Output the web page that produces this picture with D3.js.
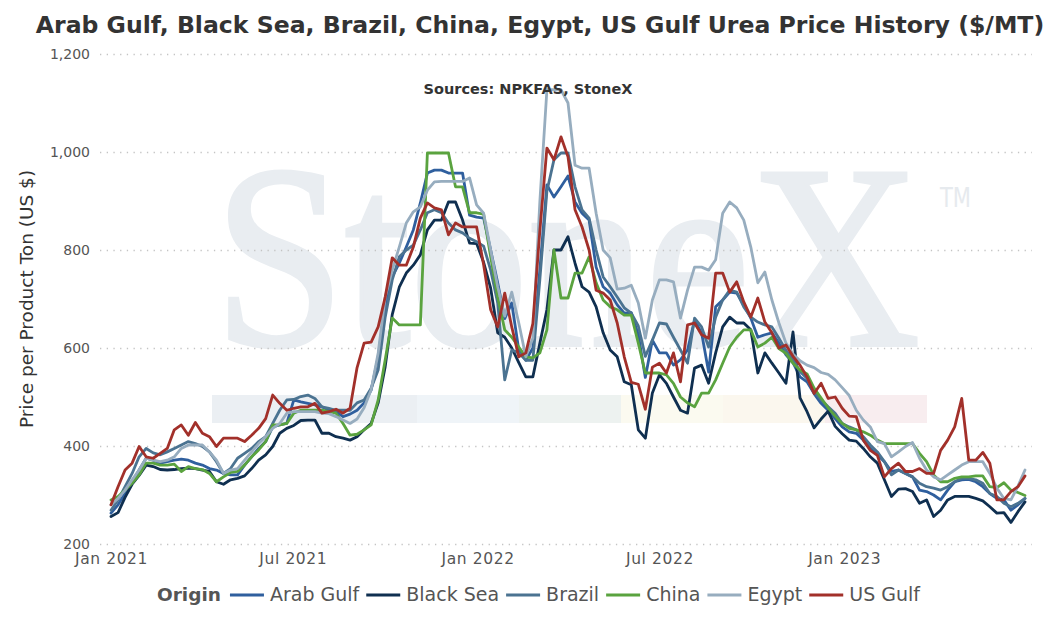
<!DOCTYPE html>
<html>
<head>
<meta charset="utf-8">
<script src="https://cdn.jsdelivr.net/npm/d3@7"></script>
<style>
  body { margin: 0; background: #fff; }
  svg { display: block; }
</style>
</head>
<body>
<div id="chart"></div>
<script>
// weekly prices, first week = Jan 1 2021
const startDate = new Date(2021, 0, 1);

const arabGulf = [263, 280, 303, 327, 351, 375, 371, 365, 368, 371, 373, 371, 365, 361, 354, 351, 344, 341, 341, 361, 378, 395, 409, 439, 443, 446, 494, 490, 487, 484, 480, 473, 470, 460,
  465, 473, 488, 514, 582, 684, 745, 773, 806, 841, 896, 957, 963, 963, 957, 957, 957, 871,
  867, 865, 800, 733, 660, 692, 596, 575, 600, 760, 933, 908, 929, 951, 898, 875, 861, 765, 725, 712, 688, 671, 672, 627, 540,
  616, 590, 590, 565, 576, 596, 657, 631, 551, 684, 698, 714, 712, 688, 661, 622, 627, 631, 610, 586, 570,
  541, 531, 507, 487, 473, 456, 439, 429, 426, 412, 395, 382, 368, 348, 351, 344, 337, 310, 307, 300, 290, 310, 327, 331, 332, 327, 317, 303, 293, 290, 269, 280, 293];

const blackSea = [256, 264, 295, 322, 340, 361, 358, 352, 351, 352, 354, 355, 354, 351, 348, 327, 322, 331, 334, 339, 354, 371, 382, 399, 426, 436, 442, 452, 453, 453, 426, 426, 419, 416, 412, 419, 433, 446, 488, 562, 668,
  724, 753, 769, 790, 841, 861, 861, 898, 898, 861, 814,
  813, 775, 722, 631, 622, 600, 570, 541, 541, 610, 678, 800, 800, 827, 773, 725, 714, 684, 631, 596, 582, 531,
  525, 433, 416, 508, 545, 528, 500, 473, 467, 559, 565, 528, 590, 643, 663, 651, 651, 637, 549, 590, 569, 549, 528, 633,
  498, 470, 437, 455, 471, 440, 425, 412, 410, 395, 378, 365, 331, 297, 312, 313, 307, 283, 290, 256, 269, 290, 297, 297, 297, 293, 288, 276, 263, 264, 244, 266, 286];

const brazil = [269, 290, 317, 344, 378, 395, 386, 382, 388, 395, 402, 409, 405, 399, 388, 368, 344, 354, 375, 385, 395, 409, 419, 446, 473, 494, 495, 501, 504, 497, 480, 477, 473, 473,
  473, 488, 494, 518, 555, 663, 739, 786, 800, 810, 841, 876, 882, 876, 855, 841, 835, 824,
  817, 808, 759, 692, 535, 596, 590, 575, 575, 740, 920, 984, 998, 998, 929, 882, 865, 800, 745, 725, 704, 682, 671, 645, 583,
  616, 651, 649, 622, 596, 569, 661, 643, 602, 663, 698, 718, 714, 684, 663, 653, 647, 643, 620, 595, 577,
  552, 538, 511, 494, 480, 467, 446, 439, 433, 419, 402, 388, 368, 341, 351, 344, 337, 324, 317, 314, 310, 317, 327, 334, 334, 331, 324, 303, 297, 283, 276, 283, 293];

const china = [290, 297, 310, 324, 341, 365, 365, 361, 361, 363, 348, 358, 354, 352, 344, 327, 337, 346, 348, 361, 378, 392, 409, 443, 443, 446, 467, 473, 473, 473, 473, 470, 467, 446, 422, 424, 433, 443, 494, 576,
  661, 647, 647, 647, 647, 998, 998, 998, 998, 929, 929, 876, 876, 873,
  786, 704, 637, 622, 602, 582, 580, 590, 637, 800, 702, 702, 753, 753, 786, 733, 698, 684, 678, 667, 667, 610, 549,
  549, 549, 545, 528, 500, 488, 480, 508, 508, 535, 569, 602, 622, 637, 637, 602, 610, 622, 599, 589, 569, 555, 547, 518, 498, 478, 461, 446, 436,
  433, 429, 422, 412, 405, 405, 405, 405, 405, 385, 368, 341, 327, 327, 334, 337, 337, 339, 339, 317, 315, 325, 310, 305, 299];

const egypt = [280, 293, 310, 331, 351, 375, 371, 368, 371, 378, 395, 402, 402, 402, 388, 371, 344, 351, 354, 371, 388, 405, 419, 436, 446, 467, 470, 470, 470, 470, 467, 466, 460, 453,
  446, 455, 478, 515, 590, 704, 759, 806, 855, 878, 888, 922, 939, 940, 940, 940, 940, 947,
  892, 875, 800, 725, 665, 714, 651, 582, 620, 900, 1127, 1127, 1127, 1100, 973, 967, 967, 875, 800, 784, 720, 722, 728, 692, 620,
  698, 739, 739, 735, 661, 718, 765, 765, 759, 780, 875, 898, 886, 861, 806, 733, 755, 698, 651, 610,
  588, 574, 565, 560, 550, 546, 535, 519, 503, 473, 453, 439, 409, 405, 378, 388, 399, 407, 375, 351, 337, 331, 341, 351, 361, 368, 368, 368, 344, 314, 293, 290, 318, 351];

const usGulf = [280, 317, 351, 365, 399, 378, 375, 385, 395, 433, 443, 422, 448, 426, 419, 399, 416, 416, 416, 409, 422, 436, 456, 504, 487, 473, 477, 480, 480, 487, 467, 470, 475, 467, 477, 560, 610, 612, 643, 704, 784,
  769, 769, 806, 865, 896, 886, 882, 831, 855, 847, 847, 847, 770, 678,
  643, 712, 643, 582, 590, 650, 840, 1008, 984, 1031, 990, 882, 847, 800, 718, 712, 698, 651, 582,
  530, 526, 475, 561, 569, 549, 590, 531, 647, 651, 627, 620, 753, 753, 714, 735, 694, 663, 702, 653, 631,
  600, 606, 583, 565, 541, 507, 528, 497, 500, 477, 461, 460, 412, 391, 381, 337, 354, 365, 348, 348, 354, 344, 344, 391, 412, 439, 497, 371, 371, 387, 365, 290, 290, 307, 317, 339];

const seriesNames = ["Arab Gulf", "Black Sea", "Brazil", "China", "Egypt", "US Gulf"];
const seriesValues = [arabGulf, blackSea, brazil, china, egypt, usGulf];
const seriesColors = ["#2f5f9e", "#0f2f50", "#4b7391", "#5aa33f", "#97adbf", "#a2302a"];

const yTicks = [200, 400, 600, 800, 1000, 1200];
const xTicks = [new Date(2021, 0, 1), new Date(2021, 6, 1), new Date(2022, 0, 1), new Date(2022, 6, 1), new Date(2023, 0, 1)];

const width = 1058;
const height = 624;
const plot = { left: 100, right: 1032 };

const svg = d3.select("#chart")
  .append("svg")
  .attr("width", width)
  .attr("height", height);

const weekDate = i => d3.timeDay.offset(startDate, 7 * i);
const lastDate = weekDate(d3.max(seriesValues, s => s.length) - 1);

const x = d3.scaleTime()
  .domain([startDate, lastDate])
  .range([111, 1025]);

const y = d3.scaleLinear()
  .domain([200, 1200])
  .range([544, 54]);

// StoneX watermark
const logoBands = [
  { x0: 212, x1: 417, color: "#ebeff3" },
  { x0: 417, x1: 519, color: "#eff4f8" },
  { x0: 519, x1: 621, color: "#edf2f0" },
  { x0: 621, x1: 723, color: "#fbfaf0" },
  { x0: 723, x1: 825, color: "#fbf7ee" },
  { x0: 825, x1: 927, color: "#f8edef" }
];
const mark = svg.append("g");
mark.selectAll("rect")
  .data(logoBands)
  .enter()
  .append("rect")
  .attr("x", d => d.x0)
  .attr("y", 395)
  .attr("width", d => d.x1 - d.x0)
  .attr("height", 28)
  .attr("fill", d => d.color);
const word = mark.append("text")
  .attr("font-family", "'Liberation Serif', serif")
  .attr("font-size", 262)
  .attr("fill", "#e9edf1")
  .attr("stroke", "#e9edf1")
  .attr("stroke-width", 4)
  .text("StoneX");
const wordScale = 706 / word.node().getComputedTextLength();
word.attr("transform", `translate(214, 345) scale(${wordScale}, 1)`);
mark.append("text")
  .attr("x", 940)
  .attr("y", 207)
  .attr("textLength", 31)
  .attr("lengthAdjust", "spacingAndGlyphs")
  .attr("font-family", "'DejaVu Sans', sans-serif")
  .attr("font-size", 26)
  .attr("fill", "#e6eaee")
  .text("TM");

// Gridlines
svg.append("g")
  .attr("transform", `translate(${plot.left}, 0)`)
  .call(d3.axisRight(y).tickValues(yTicks).tickSize(plot.right - plot.left).tickFormat(""))
  .call(g => g.select(".domain").remove())
  .call(g => g.selectAll(".tick line")
    .attr("stroke", "#c4c4c4")
    .attr("stroke-width", 1.3)
    .attr("stroke-dasharray", "1.3,5.4"));

// Y axis labels
svg.append("g")
  .attr("transform", `translate(${plot.left}, 0)`)
  .call(d3.axisLeft(y).tickValues(yTicks).tickSize(0).tickPadding(10).tickFormat(d3.format(",")))
  .call(g => g.select(".domain").remove())
  .call(g => g.selectAll("text")
    .attr("font-family", "'DejaVu Sans', sans-serif")
    .attr("font-size", 14)
    .attr("fill", "#555"));

// X axis labels
svg.append("g")
  .attr("transform", "translate(0, 544)")
  .call(d3.axisBottom(x).tickValues(xTicks).tickSize(0).tickPadding(9).tickFormat(d3.timeFormat("%b %Y")))
  .call(g => g.select(".domain").remove())
  .call(g => g.selectAll("text")
    .attr("font-family", "'DejaVu Sans', sans-serif")
    .attr("font-size", 15.5)
    .attr("letter-spacing", 0.6)
    .attr("fill", "#555"));

// Lines
const line = d3.line()
  .x((d, i) => x(weekDate(i)))
  .y(d => y(d));

svg.append("g")
  .selectAll("path")
  .data(seriesValues)
  .enter()
  .append("path")
  .attr("d", d => line(d))
  .attr("fill", "none")
  .attr("stroke", (d, i) => seriesColors[i])
  .attr("stroke-width", 2.8)
  .attr("stroke-linejoin", "round")
  .attr("stroke-linecap", "round");

// Title
const title = svg.append("text")
  .attr("x", 540)
  .attr("y", 33)
  .attr("text-anchor", "middle")
  .attr("font-family", "'DejaVu Sans', sans-serif")
  .attr("font-weight", "bold")
  .attr("font-size", 22)
  .attr("fill", "#333")
  .text("Arab Gulf, Black Sea, Brazil, China, Egypt, US Gulf Urea Price History ($/MT)");
const titleLen = title.node().getComputedTextLength();
title.attr("font-size", 22 * 1009 / titleLen);

svg.append("text")
  .attr("x", 528)
  .attr("y", 94)
  .attr("text-anchor", "middle")
  .attr("font-family", "'DejaVu Sans', sans-serif")
  .attr("font-weight", "bold")
  .attr("font-size", 14.5)
  .attr("fill", "#333")
  .text("Sources: NPKFAS, StoneX");

// Y axis title
svg.append("text")
  .attr("transform", "translate(33, 299) rotate(-90)")
  .attr("text-anchor", "middle")
  .attr("font-family", "'DejaVu Sans', sans-serif")
  .attr("font-size", 18.5)
  .attr("fill", "#333")
  .text("Price per Product Ton (US $)");

// Legend
const legend = svg.append("g").attr("transform", "translate(0, 601)");
const originLabel = legend.append("text")
  .attr("x", 157)
  .attr("font-family", "'DejaVu Sans', sans-serif")
  .attr("font-weight", "bold")
  .attr("font-size", 18.5)
  .attr("fill", "#555")
  .text("Origin");
let lx = 157 + originLabel.node().getComputedTextLength() + 9;
seriesNames.forEach((name, i) => {
  legend.append("line")
    .attr("x1", lx)
    .attr("x2", lx + 34)
    .attr("y1", -6)
    .attr("y2", -6)
    .attr("stroke", seriesColors[i])
    .attr("stroke-width", 3);
  const t = legend.append("text")
    .attr("x", lx + 40)
    .attr("font-family", "'DejaVu Sans', sans-serif")
    .attr("font-size", 19)
    .attr("fill", "#555")
    .text(name);
  lx += 40 + t.node().getComputedTextLength() + 7;
});
</script>
</body>
</html>
